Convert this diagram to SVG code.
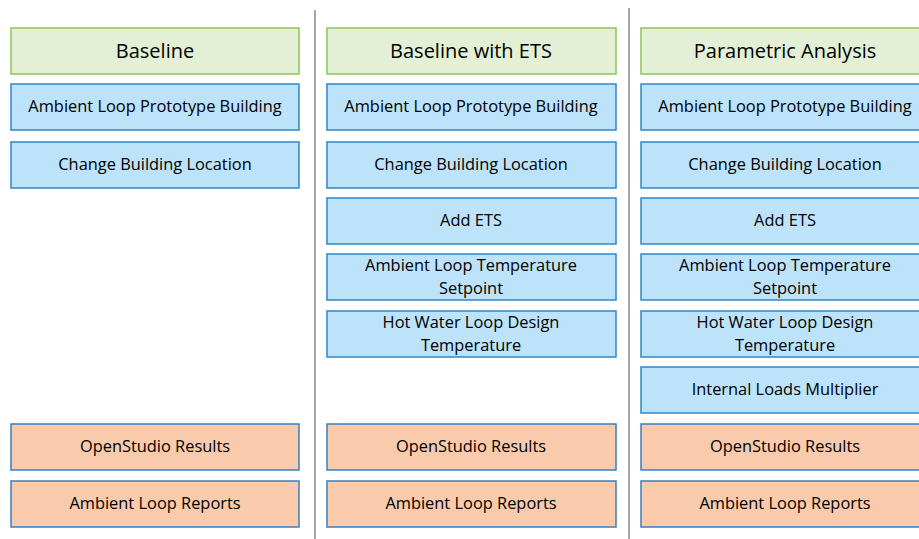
<svg xmlns="http://www.w3.org/2000/svg" width="919" height="539" viewBox="0 0 919 539">
<style>
text{font-family:"Open Sans","Liberation Sans",sans-serif;fill:#000;text-anchor:middle}
.t{font-size:16.4px}
.h{font-size:20px}
.g{fill:#e3f0d5;stroke:#8cc653;stroke-width:1.5}
.b{fill:#bde3fb;stroke:#2f86c8;stroke-width:1.5}
.o{fill:#f9cbac;stroke:#3a7fbf;stroke-width:1.5}
.sep{stroke:#a6a6a6;stroke-width:2}
</style>
<rect width="919" height="539" fill="#fff"/>
<g id="separators">
<line class="sep" x1="315" y1="10" x2="315" y2="539"/>
<line class="sep" x1="629" y1="8" x2="629" y2="539"/>
</g>
<g id="col1">
<g id="c1-header"><rect class="g" x="11" y="28" width="288" height="46"/><text class="h" x="155" y="58">Baseline</text></g>
<g id="c1-proto"><rect class="b" x="11" y="84" width="288" height="46"/><text class="t" x="155" y="112">Ambient Loop Prototype Building</text></g>
<g id="c1-loc"><rect class="b" x="11" y="142" width="288" height="46"/><text class="t" x="155" y="170">Change Building Location</text></g>
<g id="c1-osr"><rect class="o" x="11" y="424" width="288" height="46"/><text class="t" x="155" y="452">OpenStudio Results</text></g>
<g id="c1-alr"><rect class="o" x="11" y="481" width="288" height="46"/><text class="t" x="155" y="509">Ambient Loop Reports</text></g>
</g>
<g id="col2">
<g id="c2-header"><rect class="g" x="327" y="28" width="289" height="46"/><text class="h" x="471" y="58">Baseline with ETS</text></g>
<g id="c2-proto"><rect class="b" x="327" y="84" width="289" height="46"/><text class="t" x="471" y="112">Ambient Loop Prototype Building</text></g>
<g id="c2-loc"><rect class="b" x="327" y="142" width="289" height="46"/><text class="t" x="471" y="170">Change Building Location</text></g>
<g id="c2-ets"><rect class="b" x="327" y="198" width="289" height="46"/><text class="t" x="471" y="226">Add ETS</text></g>
<g id="c2-alt"><rect class="b" x="327" y="254" width="289" height="46"/><text class="t" x="471" y="271">Ambient Loop Temperature</text><text class="t" x="471" y="294">Setpoint</text></g>
<g id="c2-hw"><rect class="b" x="327" y="311" width="289" height="46"/><text class="t" x="471" y="328">Hot Water Loop Design</text><text class="t" x="471" y="351">Temperature</text></g>
<g id="c2-osr"><rect class="o" x="327" y="424" width="289" height="46"/><text class="t" x="471" y="452">OpenStudio Results</text></g>
<g id="c2-alr"><rect class="o" x="327" y="481" width="289" height="46"/><text class="t" x="471" y="509">Ambient Loop Reports</text></g>
</g>
<g id="col3">
<g id="c3-header"><rect class="g" x="641" y="28" width="289" height="46"/><text class="h" x="785" y="58">Parametric Analysis</text></g>
<g id="c3-proto"><rect class="b" x="641" y="84" width="289" height="46"/><text class="t" x="785" y="112">Ambient Loop Prototype Building</text></g>
<g id="c3-loc"><rect class="b" x="641" y="142" width="289" height="46"/><text class="t" x="785" y="170">Change Building Location</text></g>
<g id="c3-ets"><rect class="b" x="641" y="198" width="289" height="46"/><text class="t" x="785" y="226">Add ETS</text></g>
<g id="c3-alt"><rect class="b" x="641" y="254" width="289" height="46"/><text class="t" x="785" y="271">Ambient Loop Temperature</text><text class="t" x="785" y="294">Setpoint</text></g>
<g id="c3-hw"><rect class="b" x="641" y="311" width="289" height="46"/><text class="t" x="785" y="328">Hot Water Loop Design</text><text class="t" x="785" y="351">Temperature</text></g>
<g id="c3-ilm"><rect class="b" x="641" y="367" width="289" height="46"/><text class="t" x="785" y="395">Internal Loads Multiplier</text></g>
<g id="c3-osr"><rect class="o" x="641" y="424" width="289" height="46"/><text class="t" x="785" y="452">OpenStudio Results</text></g>
<g id="c3-alr"><rect class="o" x="641" y="481" width="289" height="46"/><text class="t" x="785" y="509">Ambient Loop Reports</text></g>
</g>
</svg>
